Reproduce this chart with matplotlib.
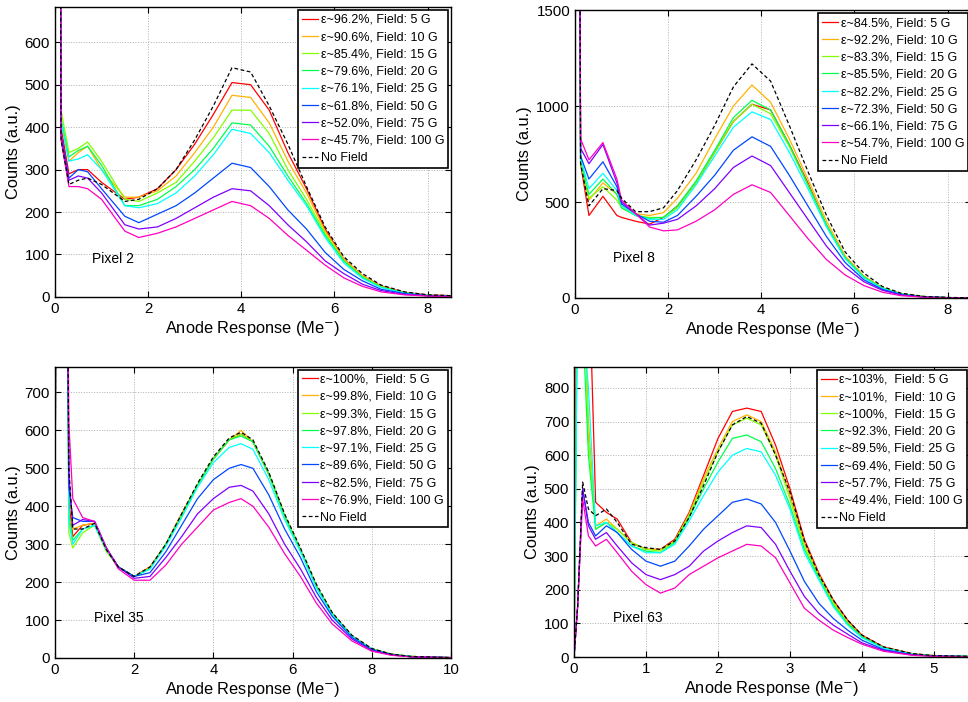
import matplotlib
matplotlib.use('Agg')
import matplotlib.pyplot as plt

plt.rcParams['font.family'] = ['Liberation Sans', 'DejaVu Sans']

fields = ['5 G', '10 G', '15 G', '20 G', '25 G', '50 G', '75 G', '100 G']
colors = ['#ff0000', '#ffb300', '#80ff00', '#00ff4c', '#00ffff', '#0048ff', '#8000ff', '#ff00c0']

# Pixel 2
p2_x = [0, 0.015, 0.07, 0.13, 0.3, 0.5, 0.7, 1.0, 1.5, 1.8, 2.2, 2.6, 3.0, 3.4, 3.8, 4.2, 4.6, 5.0, 5.4, 5.8, 6.2, 6.6, 7.0, 7.5, 8.0, 8.5]
p2_5 = [0, 3000, 3000, 400, 290, 300, 300, 270, 230, 235, 255, 300, 360, 430, 505, 500, 440, 340, 255, 160, 90, 50, 26, 11, 5, 3]
p2_10 = [0, 3000, 3000, 410, 320, 340, 355, 300, 235, 235, 250, 285, 340, 400, 475, 470, 410, 320, 245, 155, 90, 50, 25, 10, 4, 3]
p2_15 = [0, 3000, 3000, 440, 340, 350, 365, 320, 230, 225, 245, 270, 320, 375, 440, 440, 385, 300, 230, 150, 85, 48, 24, 10, 4, 2]
p2_20 = [0, 3000, 3000, 420, 330, 345, 355, 310, 215, 215, 230, 260, 300, 350, 410, 405, 355, 285, 220, 145, 85, 46, 23, 10, 4, 2]
p2_25 = [0, 3000, 3000, 415, 320, 325, 335, 300, 215, 210, 220, 245, 285, 335, 395, 385, 340, 275, 215, 140, 80, 44, 22, 9, 4, 2]
p2_50 = [0, 3000, 3000, 385, 280, 300, 295, 255, 190, 175, 195, 215, 245, 280, 315, 305, 260, 205, 160, 105, 65, 38, 18, 8, 3, 2]
p2_75 = [0, 3000, 3000, 380, 275, 285, 280, 245, 170, 160, 165, 185, 210, 235, 255, 250, 215, 170, 130, 85, 55, 30, 15, 6, 3, 1]
p2_100 = [0, 3000, 3000, 370, 260, 260, 255, 230, 155, 140, 150, 165, 185, 205, 225, 215, 185, 145, 110, 75, 45, 25, 12, 5, 2, 1]
p2_nf = [0, 3000, 3000, 370, 265, 275, 280, 265, 225, 230, 255, 300, 370, 450, 540, 530, 450, 360, 260, 165, 95, 55, 28, 12, 5, 3]
p2_eff = ['96.2%', '90.6%', '85.4%', '79.6%', '76.1%', '61.8%', '52.0%', '45.7%']

# Pixel 8
p8_x = [0, 0.015, 0.06, 0.12, 0.3, 0.6, 0.9, 1.0, 1.3, 1.6, 1.9, 2.2, 2.6, 3.0, 3.4, 3.8, 4.2, 4.6, 5.0, 5.4, 5.8, 6.2, 6.6, 7.0, 7.5, 8.0, 8.5]
p8_5 = [0, 5000, 5000, 700, 430, 530, 430, 420, 400, 385, 420, 480, 600, 760, 920, 1010, 980, 800, 600, 380, 210, 110, 52, 22, 7, 2, 1]
p8_10 = [0, 5000, 5000, 720, 510, 600, 540, 480, 440, 430, 445, 520, 650, 830, 1000, 1110, 1020, 830, 620, 400, 220, 115, 55, 22, 7, 2, 1]
p8_15 = [0, 5000, 5000, 700, 520, 580, 510, 470, 430, 420, 420, 470, 600, 760, 920, 1010, 960, 790, 590, 380, 210, 110, 52, 22, 7, 2, 1]
p8_20 = [0, 5000, 5000, 720, 540, 620, 540, 470, 430, 415, 420, 480, 610, 770, 940, 1030, 980, 800, 590, 380, 210, 110, 52, 22, 7, 2, 1]
p8_25 = [0, 5000, 5000, 730, 570, 650, 560, 480, 430, 410, 410, 460, 590, 740, 890, 970, 930, 760, 570, 370, 205, 105, 50, 20, 6, 2, 1]
p8_50 = [0, 5000, 5000, 740, 620, 710, 580, 490, 440, 400, 395, 430, 530, 640, 770, 840, 790, 640, 480, 320, 185, 95, 45, 18, 5, 2, 1]
p8_75 = [0, 5000, 5000, 780, 700, 800, 600, 500, 440, 380, 390, 410, 480, 570, 680, 740, 690, 550, 410, 270, 160, 85, 40, 16, 5, 2, 1]
p8_100 = [0, 5000, 5000, 830, 720, 810, 620, 510, 440, 370, 350, 355, 400, 460, 540, 590, 550, 430, 310, 200, 120, 65, 30, 12, 4, 1, 1]
p8_nf = [0, 5000, 5000, 700, 480, 570, 560, 520, 450, 450, 470, 560, 720, 900, 1100, 1220, 1130, 900, 660, 430, 240, 130, 60, 25, 8, 3, 1]
p8_eff = ['84.5%', '92.2%', '83.3%', '85.5%', '82.2%', '72.3%', '66.1%', '54.7%']

# Pixel 35
p35_x = [0, 0.05, 0.25, 0.35, 0.45, 0.7, 1.0, 1.3, 1.6, 2.0, 2.4, 2.8, 3.2, 3.6, 4.0, 4.4, 4.7, 5.0, 5.4, 5.8, 6.2, 6.6, 7.0, 7.5, 8.0, 8.5, 9.0, 10.0]
p35_5 = [0, 3000, 2000, 420, 320, 350, 355, 285, 240, 215, 240, 300, 380, 455, 525, 575, 590, 570, 485, 375, 285, 190, 118, 58, 24, 10, 4, 1]
p35_10 = [0, 3000, 2000, 450, 340, 350, 355, 285, 240, 215, 240, 300, 380, 455, 525, 575, 600, 570, 485, 375, 285, 190, 118, 58, 24, 10, 4, 1]
p35_15 = [0, 3000, 2000, 330, 290, 330, 350, 280, 240, 215, 235, 300, 375, 455, 525, 575, 590, 570, 485, 375, 285, 190, 118, 58, 24, 10, 4, 1]
p35_20 = [0, 3000, 2000, 380, 310, 340, 350, 285, 240, 215, 235, 300, 375, 455, 525, 575, 585, 570, 485, 375, 285, 190, 118, 58, 24, 10, 4, 1]
p35_25 = [0, 3000, 2000, 360, 300, 340, 350, 285, 240, 215, 235, 295, 370, 450, 515, 555, 565, 550, 470, 365, 280, 185, 115, 57, 23, 9, 4, 1]
p35_50 = [0, 3000, 2000, 450, 370, 360, 360, 290, 240, 215, 225, 280, 350, 420, 470, 500, 510, 500, 430, 340, 265, 175, 110, 54, 22, 9, 3, 1]
p35_75 = [0, 3000, 2000, 480, 350, 365, 360, 290, 240, 210, 215, 265, 320, 380, 420, 450, 455, 440, 380, 300, 235, 160, 100, 50, 20, 8, 3, 1]
p35_100 = [0, 3000, 2000, 620, 420, 370, 360, 290, 235, 205, 205, 245, 300, 345, 390, 410, 420, 400, 345, 275, 215, 145, 90, 45, 18, 7, 3, 1]
p35_nf = [0, 3000, 2000, 500, 340, 340, 355, 285, 240, 215, 240, 300, 380, 460, 530, 580, 595, 575, 490, 380, 290, 195, 120, 60, 25, 10, 4, 1]
p35_eff = ['100%, ', '99.8%,', '99.3%,', '97.8%,', '97.1%,', '89.6%,', '82.5%,', '76.9%,']

# Pixel 63
p63_x = [0, 0.05, 0.12, 0.2, 0.3, 0.45, 0.6, 0.8, 1.0, 1.2, 1.4, 1.6, 1.8, 2.0, 2.2, 2.4, 2.6, 2.8, 3.0, 3.2, 3.4, 3.6, 3.8, 4.0, 4.3, 4.7, 5.0, 5.5]
p63_5 = [0, 1500, 1500, 1200, 460, 430, 410, 340, 320, 320, 350, 430, 540, 650, 730, 740, 730, 630, 500, 350, 250, 170, 110, 65, 30, 10, 4, 2]
p63_10 = [0, 1200, 1200, 700, 390, 410, 380, 340, 320, 320, 345, 425, 530, 620, 700, 720, 700, 610, 480, 340, 245, 165, 105, 62, 28, 9, 4, 2]
p63_15 = [0, 1200, 1200, 650, 380, 400, 380, 340, 320, 315, 345, 420, 520, 610, 690, 710, 690, 600, 470, 330, 240, 160, 100, 60, 28, 9, 4, 2]
p63_20 = [0, 1100, 1000, 600, 380, 400, 370, 330, 315, 310, 340, 415, 500, 580, 650, 660, 640, 560, 450, 320, 235, 155, 100, 60, 27, 9, 4, 2]
p63_25 = [0, 1100, 1000, 800, 390, 400, 370, 330, 310, 310, 335, 405, 480, 550, 600, 620, 610, 540, 440, 310, 230, 150, 95, 57, 26, 8, 3, 2]
p63_50 = [0, 150, 500, 400, 360, 390, 370, 320, 285, 270, 285, 330, 380, 420, 460, 470, 455, 400, 315, 225, 160, 115, 80, 50, 22, 7, 3, 1]
p63_75 = [0, 150, 500, 390, 350, 370, 330, 280, 245, 230, 245, 270, 315, 345, 370, 390, 385, 335, 255, 180, 130, 95, 68, 42, 20, 6, 3, 1]
p63_100 = [0, 150, 470, 360, 330, 350, 310, 255, 215, 190, 205, 245, 270, 295, 315, 335, 330, 295, 220, 145, 110, 80, 58, 38, 17, 5, 2, 1]
p63_nf = [0, 150, 520, 440, 420, 440, 400, 335, 325, 320, 345, 415, 510, 610, 690, 715, 695, 600, 490, 345, 245, 170, 110, 65, 30, 10, 4, 2]
p63_eff = ['103%, ', '101%, ', '100%, ', '92.3%,', '89.5%,', '69.4%,', '57.7%,', '49.4%,']


def draw_panel(ax, x, series, no_field, effs, name, xmax, ymax, xticks, yticks, text_xy):
    for vals, eff, fld, col in zip(series, effs, fields, colors):
        if eff.endswith(',') or eff.endswith(' '):
            lab = f'ε~{eff} Field: {fld}'
        else:
            lab = f'ε~{eff}, Field: {fld}'
        ax.plot(x, vals, color=col, lw=0.9, label=lab)
    ax.plot(x, no_field, color='black', lw=0.9, ls=(0, (3, 2)), label='No Field')
    ax.set_xlim(0, xmax)
    ax.set_ylim(0, ymax)
    ax.set_xticks(xticks)
    ax.set_yticks(yticks)
    ax.grid(True, ls=':', color='#b0b0b0', lw=0.7)
    ax.tick_params(direction='in', top=True, right=True, labelsize=10.8, length=4)
    ax.set_xlabel('Anode Response (Me$^{-}$)', fontsize=11.8, labelpad=2)
    ax.set_ylabel('Counts (a.u.)', fontsize=11.8, labelpad=3)
    ax.text(text_xy[0], text_xy[1], name, fontsize=10, ha='left', va='center')
    leg = ax.legend(loc='upper right', fontsize=9, handlelength=1.3, handletextpad=0.2,
                    labelspacing=0.42, borderpad=0.3, borderaxespad=0.25, fancybox=False,
                    framealpha=1, edgecolor='black')
    leg.get_frame().set_linewidth(1.2)
    for s in ax.spines.values():
        s.set_linewidth(1.0)


fig = plt.figure(figsize=(9.68, 7.02), dpi=100)

ax1 = fig.add_axes([0.0568, 0.577, 0.409, 0.413])
draw_panel(ax1, p2_x, [p2_5, p2_10, p2_15, p2_20, p2_25, p2_50, p2_75, p2_100], p2_nf, p2_eff,
           'Pixel 2', 8.5, 683, [0, 2, 4, 6, 8], range(0, 700, 100), (0.8, 90))

ax2 = fig.add_axes([0.594, 0.5755, 0.409, 0.410])
draw_panel(ax2, p8_x, [p8_5, p8_10, p8_15, p8_20, p8_25, p8_50, p8_75, p8_100], p8_nf, p8_eff,
           'Pixel 8', 8.5, 1500, [0, 2, 4, 6, 8], [0, 500, 1000, 1500], (0.82, 208))

ax3 = fig.add_axes([0.0568, 0.0627, 0.409, 0.415])
draw_panel(ax3, p35_x, [p35_5, p35_10, p35_15, p35_20, p35_25, p35_50, p35_75, p35_100], p35_nf, p35_eff,
           'Pixel 35', 10, 768, [0, 2, 4, 6, 8, 10], range(0, 800, 100), (0.99, 105))

ax4 = fig.add_axes([0.593, 0.0641, 0.409, 0.413])
draw_panel(ax4, p63_x, [p63_5, p63_10, p63_15, p63_20, p63_25, p63_50, p63_75, p63_100], p63_nf, p63_eff,
           'Pixel 63', 5.5, 862, [0, 1, 2, 3, 4, 5], range(0, 900, 100), (0.54, 116))

fig.savefig('out.png', dpi=100)
